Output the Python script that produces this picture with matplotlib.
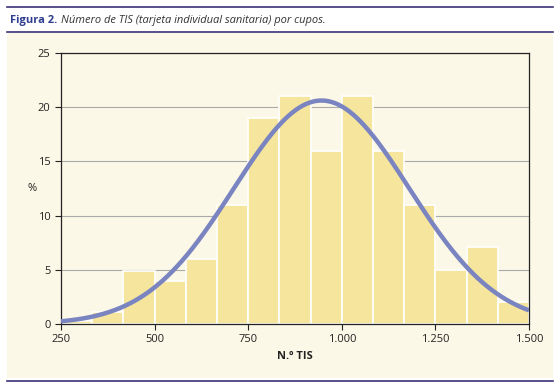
import matplotlib.pyplot as plt
import numpy as np
from matplotlib.patches import Rectangle
from matplotlib.lines import Line2D

# histogram of TIS per cupo (bin edges 250..1500, 15 bins)
bin_edges = np.linspace(250, 1500, 16)
pct = [0.3, 1.1, 4.85, 4.0, 6.0, 11.0, 19.0, 21.0, 16.0, 21.0, 16.0, 11.0, 5.0, 7.1, 2.0]
xticks = [250, 500, 750, 1000, 1250, 1500]
xtick_labels = ['250', '500', '750', '1.000', '1.250', '1.500']
yticks = [0, 5, 10, 15, 20, 25]

cream = '#FCF8E7'
bar_col = '#F6E59C'
curve_col = '#7A84C1'
navy = '#3B3275'

plt.rcParams['font.family'] = ['Open Sans', 'DejaVu Sans']

fig = plt.figure(figsize=(5.6, 3.91), dpi=100)
fig.patch.set_facecolor('white')

# panel background and rules
fig.patches.append(Rectangle((7/560, 1 - 378/391), 546/560, 345/391,
                             transform=fig.transFigure, facecolor=cream,
                             edgecolor='none', zorder=-5))
for yy in [7, 32, 381]:
    fig.lines.append(Line2D([7/560, 553/560], [1 - yy/391, 1 - yy/391],
                            transform=fig.transFigure, color=navy, lw=1.2))

fig.text(10/560, 1 - 20/391, 'Figura 2.', color='#2E3D8F', fontsize=8,
         fontweight='bold', va='center', ha='left')
fig.text(61/560, 1 - 20/391, 'Número de TIS (tarjeta individual sanitaria) por cupos.',
         color='#333333', fontsize=8, fontstyle='italic', va='center', ha='left')

ax = fig.add_axes([61/560, 1 - 324/391, 468/560, 271/391])
ax.set_facecolor(cream)

widths = np.diff(bin_edges)
centers = bin_edges[:-1] + widths / 2
ax.bar(bin_edges[:-1], pct, width=widths, align='edge', color=bar_col,
       edgecolor='white', linewidth=1.2, zorder=2)

# normal curve fitted to the histogram
w = np.array(pct)
mean = np.sum(centers * w) / w.sum()
sd = np.sqrt(np.sum(w * (centers - mean) ** 2) / w.sum())
xs = np.linspace(250, 1500, 400)
ys = w.sum() * widths[0] * np.exp(-(xs - mean) ** 2 / (2 * sd ** 2)) / (sd * np.sqrt(2 * np.pi))
ax.plot(xs, ys, color=curve_col, lw=3.2, zorder=3, solid_capstyle='butt')

ax.set_xlim(250, 1500)
ax.set_ylim(0, 25)
ax.set_xticks(xticks)
ax.set_xticklabels(xtick_labels)
ax.set_yticks(yticks)
ax.yaxis.grid(True, color='#AAAAAA', lw=0.8, zorder=0)
ax.set_axisbelow(True)
ax.tick_params(axis='both', labelsize=8, colors='#222222', length=4, width=0.8)
for s in ax.spines.values():
    s.set_color('#222222')
    s.set_linewidth(0.9)

ax.set_xlabel('N.º TIS', fontsize=8, fontweight='bold', color='#222222', labelpad=4)
ax.set_ylabel('%', fontsize=8, rotation=0, color='#222222', labelpad=4, va='center')

fig.savefig('out.png', dpi=100, facecolor=fig.get_facecolor())
